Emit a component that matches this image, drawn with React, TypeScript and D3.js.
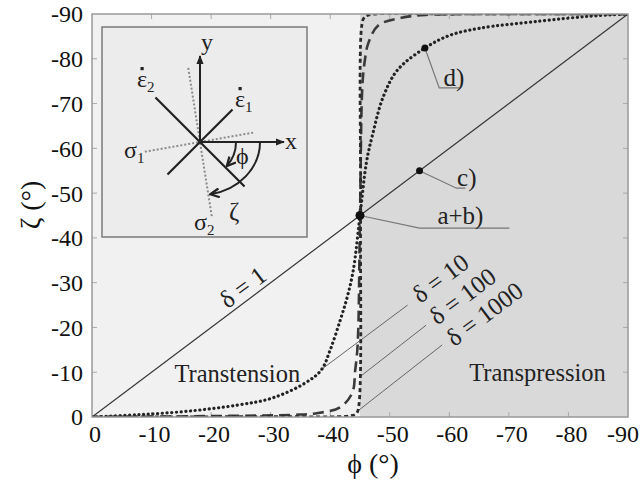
import * as d3 from 'd3'

const W = 643
const H = 483
const margin = { top: 14, right: 14, bottom: 66, left: 92 }

const phiTicks = [0, -10, -20, -30, -40, -50, -60, -70, -80, -90]
const zetaTicks = [0, -10, -20, -30, -40, -50, -60, -70, -80, -90]

// zeta(phi) for each viscosity ratio
const delta1: [number, number][] = [[0, 0], [-90, -90]]
const delta10: [number, number][] = [
  [0, 0], [-7.7, -0.5], [-16.2, -1.3], [-24.6, -2.7], [-30.2, -4.2], [-35.8, -7.6],
  [-38.5, -10.5], [-40, -15], [-41.7, -21.7], [-42.9, -27], [-43.9, -33], [-45, -45],
  [-46.1, -57], [-47.1, -63], [-48.9, -71.5], [-51.3, -77.5], [-55.9, -82.4],
  [-60, -85.2], [-65, -86.8], [-75.2, -88.4], [-83.6, -89.5], [-90, -90],
]
const delta100: [number, number][] = [
  [0, 0], [-20, -0.2], [-34, -0.5], [-38, -0.9], [-41.7, -2.2], [-43.7, -5.4],
  [-44.2, -10.5], [-44.6, -16], [-45, -45], [-45.4, -74], [-45.8, -79.5],
  [-46.4, -83.5], [-48.1, -87.5], [-51.8, -89.1], [-56, -89.8], [-70, -90], [-90, -90],
]
const delta1000: [number, number][] = [
  [0, 0], [-30, -0.1], [-43.5, -0.3], [-44.4, -0.8], [-44.8, -2.5], [-45.1, -45],
  [-45.3, -87.5], [-45.7, -89.2], [-46.5, -89.8], [-60, -90], [-90, -90],
]

const curves = [
  { name: 'd1', data: delta1, dash: 'none', width: 1.2, color: '#333' },
  { name: 'd10', data: delta10, dash: '0.1,4.6', width: 3.2, color: '#222', cap: 'round' },
  { name: 'd100', data: delta100, dash: '11,6', width: 2.6, color: '#3a3a3a' },
  { name: 'd1000', data: delta1000, dash: '4,3', width: 2.8, color: '#2a2a2a' },
]

const marked = [
  { label: 'a+b)', phi: -45, zeta: -45, elbow: [-55, -42.2], end: [-70.1, -42.2], text: [-58.0, -43.1] },
  { label: 'c)', phi: -55, zeta: -55, elbow: [-61.2, -51.1], end: [-62.7, -51.1], text: [-61.3, -51.6] },
  { label: 'd)', phi: -55.9, zeta: -82.4, elbow: [-58.3, -73.5], end: [-61.7, -73.5], text: [-59.0, -73.9] },
]

const deltaLabels = [
  { text: 'δ = 1', phi: -25.3, zeta: -29 },
  { text: 'δ = 10', phi: -58.5, zeta: -31, from: [-53, -25], to: [-38.4, -10.5] },
  { text: 'δ = 100', phi: -62.2, zeta: -27, from: [-56.1, -20.5], to: [-44.9, -8.9] },
  { text: 'δ = 1000', phi: -65.9, zeta: -23, from: [-58.8, -16.1], to: [-44.4, -1.1] },
]

const regions = [
  { label: 'Transtension', from: 0, to: -45, fill: '#f1f1f1', tx: -24.4, ty: -7.8 },
  { label: 'Transpression', from: -45, to: -90, fill: '#d9d9d9', tx: -74.8, ty: -8.0 },
]

// inset sketch: origin, axes and principal directions (degrees, counter-clockwise from x)
const inset = { x: 102, y: 27, w: 205, h: 210, ox: 200, oy: 142 }
const strainDirs = [
  { angle: 45, len: 46, label: '1', lx: 235, ly: 107 },
  { angle: 135, len: 63, label: '2', lx: 137, ly: 87 },
]
const stressDirs = [
  { angle: 10, len: 56, label: '1', lx: 124, ly: 158 },
  { angle: 99, len: 75, label: '2', lx: 194, ly: 230 },
]

const FONT = "'Liberation Serif', 'Times New Roman', serif"

export default function App() {
  const x = d3.scaleLinear().domain([0, -90]).range([margin.left, W - margin.right - 1])
  const y = d3.scaleLinear().domain([0, -90]).range([H - margin.bottom, margin.top])
  const angle = (Math.atan2(y(-90) - y(0), x(-90) - x(0)) * 180) / Math.PI

  const line = d3
    .line<[number, number]>()
    .x((d) => x(d[0]))
    .y((d) => y(d[1]))
    .curve(d3.curveCatmullRom.alpha(0.5))

  const px = (p: number[]) => [x(p[0]), y(p[1])]
  const rad = (a: number) => (a * Math.PI) / 180

  return (
    <svg width={W} height={H} style={{ position: 'absolute', left: 0, top: 0, background: '#fff' }} fontFamily={FONT}>
      <defs>
        <clipPath id="plot">
          <rect x={x(0)} y={y(-90)} width={x(-90) - x(0)} height={y(0) - y(-90)} />
        </clipPath>
        <marker id="tri" viewBox="0 0 10 10" refX="9" refY="5" markerWidth="9" markerHeight="9" markerUnits="userSpaceOnUse" orient="auto">
          <path d="M0,1 L10,5 L0,9 Z" fill="#222" />
        </marker>
        <marker id="vee" viewBox="0 0 10 10" refX="9" refY="5" markerWidth="11" markerHeight="11" markerUnits="userSpaceOnUse" orient="auto">
          <path d="M1,1 L9,5 L1,9" fill="none" stroke="#222" strokeWidth="2" />
        </marker>
      </defs>

      {regions.map((r) => (
        <rect key={r.label} x={x(r.from)} y={y(-90)} width={x(r.to) - x(r.from)} height={y(0) - y(-90)} fill={r.fill} />
      ))}

      {/* inward ticks on all four sides */}
      <g stroke="#a8a8a8" strokeWidth={1}>
        {phiTicks.slice(1, -1).map((t) => (
          <g key={'xt' + t}>
            <line x1={x(t)} x2={x(t)} y1={y(0)} y2={y(0) - 5} />
            <line x1={x(t)} x2={x(t)} y1={y(-90)} y2={y(-90) + 5} />
          </g>
        ))}
        {zetaTicks.slice(1, -1).map((t) => (
          <g key={'yt' + t}>
            <line x1={x(0)} x2={x(0) + 5} y1={y(t)} y2={y(t)} />
            <line x1={x(-90)} x2={x(-90) - 5} y1={y(t)} y2={y(t)} />
          </g>
        ))}
      </g>

      {regions.map((r) => (
        <text key={'t' + r.label} x={x(r.tx)} y={y(r.ty)} textAnchor="middle" fontSize={24.5} fill="#222">
          {r.label}
        </text>
      ))}

      {/* leader lines for delta labels */}
      <g stroke="#666" strokeWidth={1}>
        {deltaLabels.filter((d) => d.from).map((d) => {
          const [x1, y1] = px(d.from!)
          const [x2, y2] = px(d.to!)
          return <line key={'ld' + d.text} x1={x1} y1={y1} x2={x2} y2={y2} />
        })}
      </g>

      <g clipPath="url(#plot)">
        {curves.map((c) => (
          <path
            key={c.name}
            d={line(c.data) || ''}
            fill="none"
            stroke={c.color}
            strokeWidth={c.width}
            strokeDasharray={c.dash}
            strokeLinecap={(c.cap as any) || 'butt'}
          />
        ))}
      </g>

      {deltaLabels.map((d) => (
        <text
          key={d.text}
          transform={`translate(${x(d.phi)},${y(d.zeta)}) rotate(${angle})`}
          textAnchor="middle"
          dominantBaseline="central"
          fontSize={25}
          fill="#222"
        >
          {d.text}
        </text>
      ))}

      {marked.map((m) => {
        const [ex, ey] = px(m.elbow)
        const [nx, ny] = px(m.end)
        const [tx, ty] = px(m.text)
        return (
          <g key={m.label}>
            <polyline points={`${x(m.phi)},${y(m.zeta)} ${ex},${ey} ${nx},${ny}`} fill="none" stroke="#777" strokeWidth={1.2} />
            <circle cx={x(m.phi)} cy={y(m.zeta)} r={m.label === 'a+b)' ? 4.5 : 3.5} fill="#111" />
            <text x={tx} y={ty} fontSize={25} fill="#222">
              {m.label}
            </text>
          </g>
        )
      })}

      <rect x={x(0)} y={y(-90)} width={x(-90) - x(0)} height={y(0) - y(-90)} fill="none" stroke="#999" strokeWidth={1.5} />

      {/* inset sketch */}
      <g>
        <rect x={inset.x} y={inset.y} width={inset.w} height={inset.h} fill="#ececec" stroke="#7a7a7a" strokeWidth={1.5} />
        {stressDirs.map((s) => (
          <line
            key={'s' + s.label}
            x1={inset.ox - s.len * Math.cos(rad(s.angle))}
            y1={inset.oy + s.len * Math.sin(rad(s.angle))}
            x2={inset.ox + s.len * Math.cos(rad(s.angle))}
            y2={inset.oy - s.len * Math.sin(rad(s.angle))}
            stroke="#8a8a8a"
            strokeWidth={2}
            strokeDasharray="2,2"
          />
        ))}
        {strainDirs.map((s) => (
          <line
            key={'e' + s.label}
            x1={inset.ox - s.len * Math.cos(rad(s.angle))}
            y1={inset.oy + s.len * Math.sin(rad(s.angle))}
            x2={inset.ox + s.len * Math.cos(rad(s.angle))}
            y2={inset.oy - s.len * Math.sin(rad(s.angle))}
            stroke="#222"
            strokeWidth={2.2}
          />
        ))}
        <line x1={inset.ox} y1={inset.oy} x2={inset.ox} y2={inset.oy - 86} stroke="#222" strokeWidth={2} markerEnd="url(#tri)" />
        <line x1={inset.ox} y1={inset.oy} x2={inset.ox + 84} y2={inset.oy} stroke="#222" strokeWidth={2} markerEnd="url(#tri)" />
        <text x={inset.ox + 1} y={inset.oy - 92} fontSize={24} fill="#222">y</text>
        <text x={inset.ox + 85} y={inset.oy + 7} fontSize={24} fill="#222">x</text>
        <path
          d={`M${inset.ox + 36},${inset.oy} A36,36 0 0,1 ${inset.ox + 36 * Math.cos(rad(42))},${inset.oy + 36 * Math.sin(rad(42))}`}
          fill="none"
          stroke="#222"
          strokeWidth={2}
          markerEnd="url(#vee)"
        />
        <path
          d={`M${inset.ox + 60},${inset.oy} A60,53 0 0,1 ${inset.ox + 60 * Math.cos(rad(80))},${inset.oy + 53 * Math.sin(rad(80))}`}
          fill="none"
          stroke="#222"
          strokeWidth={2}
          markerEnd="url(#vee)"
        />
        <text x={inset.ox + 36} y={inset.oy + 22} fontSize={24} fill="#222">ϕ</text>
        <text x={inset.ox + 29} y={inset.oy + 78} fontSize={25} fill="#222">ζ</text>
        {strainDirs.map((s) => (
          <g key={'el' + s.label}>
            <text x={s.lx} y={s.ly} fontSize={24} fill="#222">
              ε<tspan fontSize={15} dy={5}>{s.label}</tspan>
            </text>
            <rect x={s.lx + 3.5} y={s.ly - 20} width={3.2} height={3.2} fill="#222" />
          </g>
        ))}
        {stressDirs.map((s) => (
          <text key={'sl' + s.label} x={s.lx} y={s.ly} fontSize={24} fill="#222">
            σ<tspan fontSize={15} dy={5}>{s.label}</tspan>
          </text>
        ))}
      </g>

      {/* tick labels */}
      {phiTicks.map((t) => (
        <text key={'xl' + t} x={Math.min(x(t) + 3, W - 20)} y={y(0) + 25} textAnchor="middle" fontSize={24} fill="#111">
          {t}
        </text>
      ))}
      {zetaTicks.map((t) => (
        <text key={'yl' + t} x={x(0) - 9} y={y(t)} dy="0.35em" textAnchor="end" fontSize={24} fill="#111">
          {t}
        </text>
      ))}

      <text x={373} y={H - 10} textAnchor="middle" fontSize={28} fill="#111">
        ϕ (°)
      </text>
      <text transform={`translate(30,205) rotate(-90)`} textAnchor="middle" dominantBaseline="central" fontSize={28} fill="#111">
        ζ (°)
      </text>
    </svg>
  )
}
